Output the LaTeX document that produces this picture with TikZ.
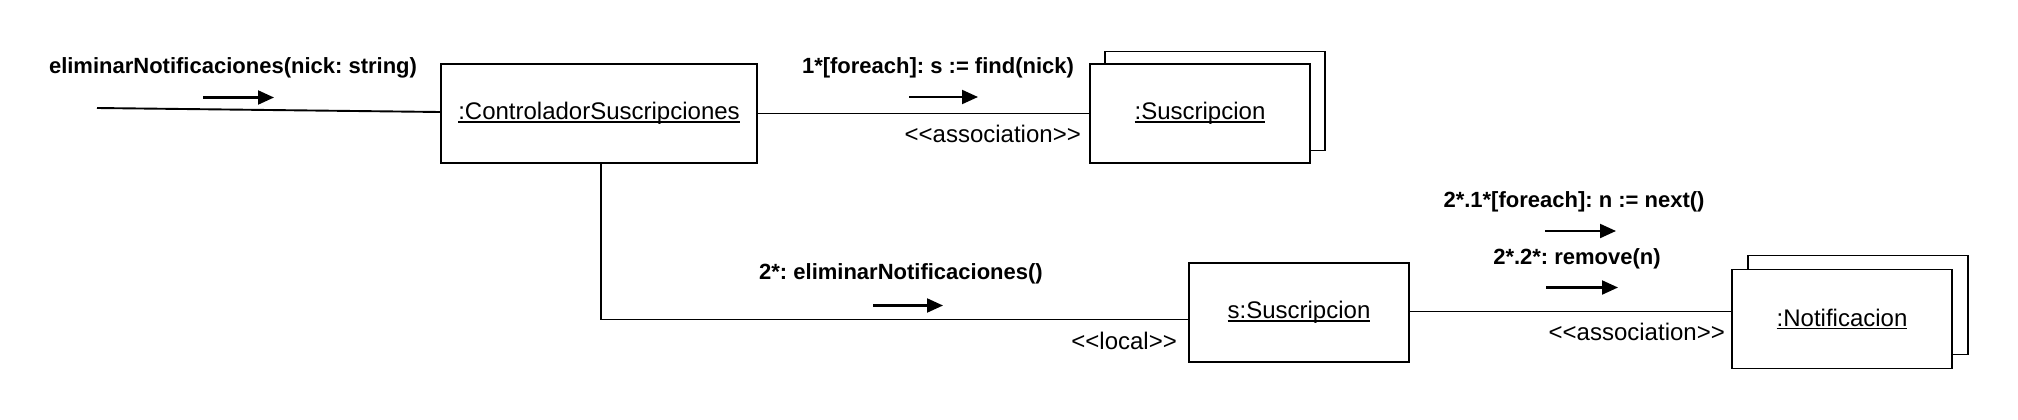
\documentclass[tikz,border=0pt]{standalone}
\usepackage{fontspec}
\setmainfont{Liberation Sans}
\usetikzlibrary{arrows.meta}
\frenchspacing
\newcommand{\ulx}[1]{{\setbox0\hbox{#1}\rlap{\rule[-3pt]{\wd0}{1.4pt}}\box0}}
\tikzset{
  obj/.style={draw, line width=1.9pt, fill=white, minimum width=220pt, minimum height=99pt, inner sep=0pt, font=\fontsize{24}{28}\selectfont},
  msg/.style={font=\bfseries\fontsize{22}{26}\selectfont, inner sep=0pt},
  stereo/.style={font=\fontsize{24}{28}\selectfont, inner sep=0pt},
  link/.style={line width=1.9pt},
  marrow/.style={line width=2.1pt, -{Triangle[length=16pt,width=14pt]}}
}
\begin{document}
\frenchspacing
\begin{tikzpicture}[x=1pt,y=1pt]
\useasboundingbox (0,0) rectangle (2018,-420);
% objects
\node[obj, minimum width=316pt] (ctrl) at (599,-113.5) {\ulx{:ControladorSuscripciones}};
\node[obj] (susback) at (1215,-101) {};
\node[obj] (sus) at (1200,-113.5) {\ulx{:Suscripcion}};
\node[obj] (ssus) at (1299,-312.5) {\ulx{s:Suscripcion}};
\node[obj] (notback) at (1858,-305) {};
\node[obj] (notif) at (1842,-319) {\ulx{:Notificacion}};
% incoming message
\coordinate (start) at (97,-108);
\draw[link] (start) -- ([yshift=1.5pt]ctrl.west);
\node[msg] (l0) at (233,-68) {eliminarNotificaciones(nick: string)};
\coordinate (a0s) at (203,-97.5);
\coordinate (a0e) at (274,-97.5);
\draw[marrow] (a0s) -- (a0e);
% ctrl -> sus
\draw[link] (ctrl.east) -- (sus.west);
\node[msg] (l1) at (938,-68) {1*[foreach]: s := find(nick)};
\coordinate (a1s) at (909,-97);
\coordinate (a1e) at (978,-97);
\draw[marrow] (a1s) -- (a1e);
\node[stereo, anchor=east] (as1) at (1081,-134) {<{}<association>{}>};
% ctrl -> ssus
\draw[link] ([xshift=2pt]ctrl.south) |- ([yshift=-7pt]ssus.west);
\node[msg] (l2) at (901,-274) {2*: eliminarNotificaciones()};
\coordinate (a2s) at (873,-305.5);
\coordinate (a2e) at (943,-305.5);
\draw[marrow] (a2s) -- (a2e);
\node[stereo, anchor=east] (loc) at (1177,-341) {<{}<local>{}>};
% ssus -> notif
\draw[link] ([yshift=1pt]ssus.east) -- ([yshift=7.5pt]notif.west);
\node[msg] (l3) at (1574,-202) {2*.1*[foreach]: n := next()};
\coordinate (a3s) at (1545,-231);
\coordinate (a3e) at (1616,-231);
\draw[marrow] (a3s) -- (a3e);
\node[msg] (l4) at (1577,-259) {2*.2*: remove(n)};
\coordinate (a4s) at (1546,-287.5);
\coordinate (a4e) at (1618,-287.5);
\draw[marrow] (a4s) -- (a4e);
\node[stereo, anchor=east] (as2) at (1725,-332) {<{}<association>{}>};
\end{tikzpicture}
\end{document}
